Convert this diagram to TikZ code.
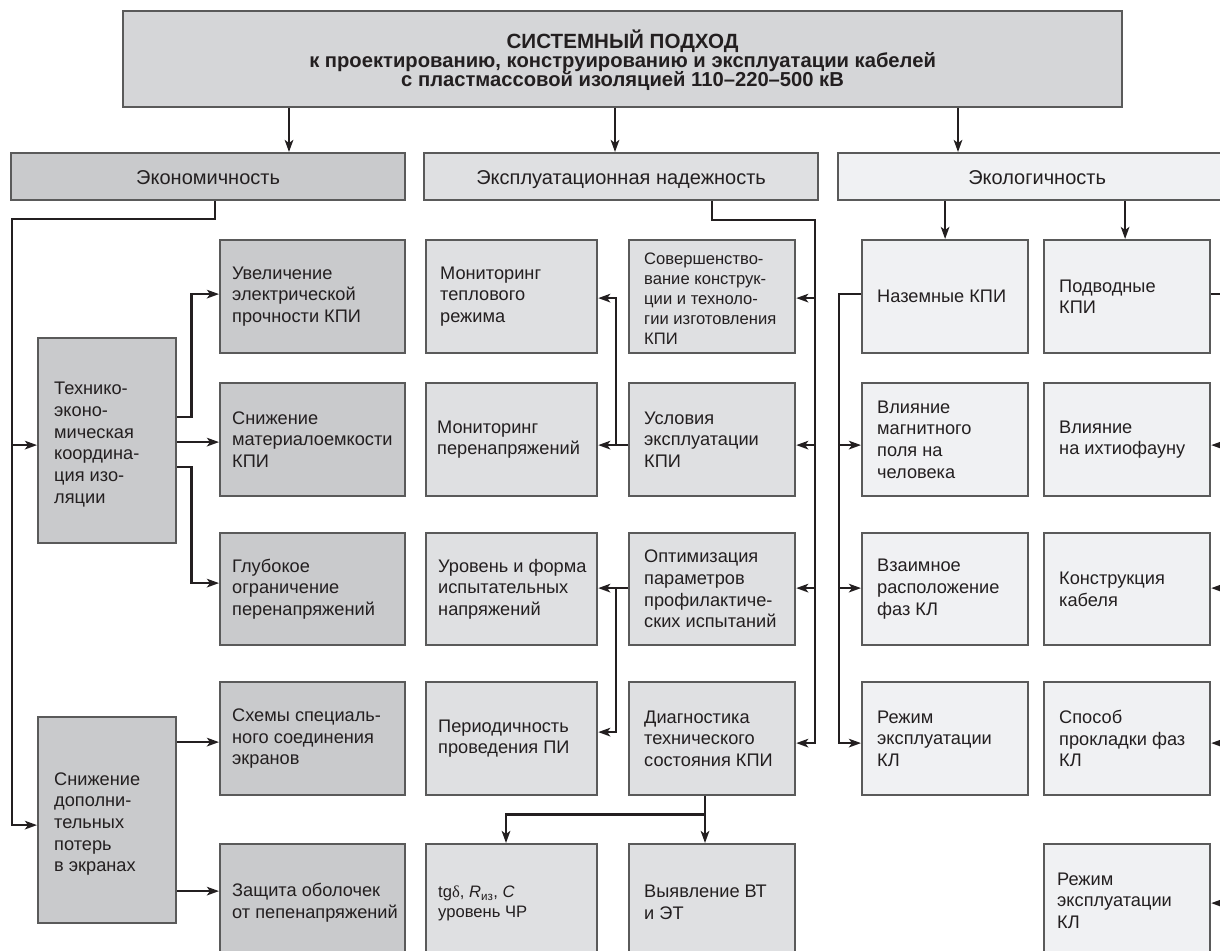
\documentclass[tikz,border=0pt]{standalone}
\usepackage{fontspec}
\setmainfont{Liberation Sans}
\newfontfamily\dserif{Liberation Serif}
\usetikzlibrary{arrows.meta}
\definecolor{topc}{HTML}{D5D6D8}
\definecolor{ecoc}{HTML}{C9CACC}
\definecolor{expc}{HTML}{DFE0E2}
\definecolor{ekoc}{HTML}{F0F1F3}
\definecolor{bordc}{HTML}{5A5A5A}
\definecolor{linec}{HTML}{231F20}
\newcommand\bodyf{\fontsize{18.2}{21.7}\selectfont}
\newcommand\smallf{\fontsize{16.6}{20}\selectfont}
\newcommand\catf{\fontsize{20}{24}\selectfont}
\newcommand\ttlf{\fontsize{20.2}{19.3}\selectfont\bfseries}
\tikzset{
  boxbase/.style={draw=bordc, line width=2.2pt, anchor=north west, inner sep=0pt, minimum height=113pt},
  catbox/.style={boxbase, minimum height=47pt, font=\catf, text=linec, text height=15pt, text depth=0pt},
  gA/.style={boxbase, fill=ecoc, minimum width=185pt},
  gT/.style={boxbase, fill=ecoc, minimum width=138pt},
  gML/.style={boxbase, fill=expc, minimum width=171pt},
  gMR/.style={boxbase, fill=expc, minimum width=166pt},
  gR/.style={boxbase, fill=ekoc, minimum width=166pt},
  txt/.style={anchor=west, align=left, inner sep=0pt, font=\bodyf, text=linec},
  ln/.style={draw=linec, line width=2.7pt},
  arr/.style={ln, -{Stealth[length=12pt,width=8.5pt,inset=3pt]}},
}
\begin{document}
\begin{tikzpicture}[x=1pt,y=-1pt]
\useasboundingbox (0,0) rectangle (1220,950);
\fill[white] (0,0) rectangle (1220,950);
\clip (0,0) rectangle (1220,950);

% title and categories
\node[boxbase, fill=topc, minimum width=999pt, minimum height=96pt] (top) at (122,10) {};
\node[font=\ttlf, align=center, text=linec, inner sep=0pt] (ttl) at ([yshift=-1pt]top.center)
  {{\fontsize{20.6}{19.3}\selectfont СИСТЕМНЫЙ ПОДХОД}\\к проектированию, конструированию и эксплуатации кабелей\\с пластмассовой изоляцией 110–220–500 кВ};
\node[catbox, fill=ecoc, minimum width=394pt] (econ) at (10,152) {Экономичность};
\node[catbox, fill=expc, minimum width=394pt] (expl) at (423,152) {Эксплуатационная надежность};
\node[catbox, fill=ekoc, minimum width=398pt] (ekol) at (837,152) {Экологичность};

% left column
\node[gT, minimum height=205pt] (tech) at (37,337) {};
\node[txt] (techt) at ([xshift=17pt,yshift=-4pt]tech.west) {Технико-\\эконо-\\мическая\\координа-\\ция изо-\\ляции};
\node[gT, minimum height=206pt] (sdop) at (37,716) {};
\node[txt] (sdopt) at ([xshift=17pt,yshift=-4pt]sdop.west) {Снижение\\дополни-\\тельных\\потерь\\в экранах};
\node[gA] (b1) at (219,239) {};
\node[txt] (b1t) at ([xshift=13pt]b1.west) {Увеличение\\электрической\\прочности КПИ};
\node[gA] (b2) at (219,382) {};
\node[txt] (b2t) at ([xshift=13pt]b2.west) {Снижение\\материалоемкости\\КПИ};
\node[gA, minimum height=112pt] (b3) at (219,532) {};
\node[txt] (b3t) at ([xshift=13pt]b3.west) {Глубокое\\ограничение\\перенапряжений};
\node[gA] (b4) at (219,681) {};
\node[txt] (b4t) at ([xshift=13pt]b4.west) {Схемы специаль-\\ного соединения\\экранов};
\node[gA] (b5) at (219,843) {};
\node[txt] (b5t) at ([xshift=13pt,yshift=-2pt]b5.west) {Защита оболочек\\от пепенапряжений};

% middle columns
\node[gML] (m1) at (425,239) {};
\node[txt] (m1t) at ([xshift=15pt]m1.west) {Мониторинг\\теплового\\режима};
\node[gMR] (m2) at (628,239) {};
\node[txt, font=\smallf] (m2t) at ([xshift=16pt,yshift=-2pt]m2.west) {Совершенство-\\вание конструк-\\ции и техноло-\\гии изготовления\\КПИ};
\node[gML] (m3) at (425,382) {};
\node[txt] (m3t) at ([xshift=12pt]m3.west) {Мониторинг\\перенапряжений};
\node[gMR] (m4) at (628,382) {};
\node[txt] (m4t) at ([xshift=16pt]m4.west) {Условия\\эксплуатации\\КПИ};
\node[gML, minimum height=112pt] (m5) at (425,532) {};
\node[txt] (m5t) at ([xshift=13pt]m5.west) {Уровень и форма\\испытательных\\напряжений};
\node[gMR, minimum height=112pt] (m6) at (628,532) {};
\node[txt] (m6t) at ([xshift=16pt]m6.west) {Оптимизация\\параметров\\профилактиче-\\ских испытаний};
\node[gML] (m7) at (425,681) {};
\node[txt] (m7t) at ([xshift=13pt]m7.west) {Периодичность\\проведения ПИ};
\node[gMR] (m8) at (628,681) {};
\node[txt] (m8t) at ([xshift=16pt]m8.west) {Диагностика\\технического\\состояния КПИ};
\node[gML] (m9) at (425,843) {};
\node[txt, font=\smallf] (m9t) at ([xshift=13pt,yshift=-3pt]m9.west) {tg{\dserif δ}, \textit{R}\textsubscript{из}, \textit{C}\\уровень ЧР};
\node[gMR] (m10) at (628,843) {};
\node[txt] (m10t) at ([xshift=16pt,yshift=-2pt]m10.west) {Выявление ВТ\\и ЭТ};

% right columns
\node[gR] (r1) at (861,239) {};
\node[txt] (r1t) at ([xshift=16pt]r1.west) {Наземные КПИ};
\node[gR] (r2) at (1043,239) {};
\node[txt] (r2t) at ([xshift=16pt]r2.west) {Подводные\\КПИ};
\node[gR] (r3) at (861,382) {};
\node[txt] (r3t) at ([xshift=16pt]r3.west) {Влияние\\магнитного\\поля на\\человека};
\node[gR] (r4) at (1043,382) {};
\node[txt] (r4t) at ([xshift=16pt]r4.west) {Влияние\\на ихтиофауну};
\node[gR, minimum height=112pt] (r5) at (861,532) {};
\node[txt] (r5t) at ([xshift=16pt]r5.west) {Взаимное\\расположение\\фаз КЛ};
\node[gR, minimum height=112pt] (r6) at (1043,532) {};
\node[txt] (r6t) at ([xshift=16pt]r6.west) {Конструкция\\кабеля};
\node[gR] (r7) at (861,681) {};
\node[txt] (r7t) at ([xshift=16pt]r7.west) {Режим\\эксплуатации\\КЛ};
\node[gR] (r8) at (1043,681) {};
\node[txt] (r8t) at ([xshift=16pt]r8.west) {Способ\\прокладки фаз\\КЛ};
\node[gR] (r10) at (1043,843) {};
\node[txt] (r10t) at ([xshift=14pt]r10.west) {Режим\\эксплуатации\\КЛ};

% ---------- connectors ----------
\coordinate (k1) at ([xshift=167pt]top.south west);
\coordinate (k2) at ([xshift=493pt]top.south west);
\coordinate (k3) at ([xshift=836pt]top.south west);
\draw[arr] (k1) -- (k1 |- econ.north);
\draw[arr] (k2) -- (k2 |- expl.north);
\draw[arr] (k3) -- (k3 |- ekol.north);

% economy bus
\coordinate (eo) at ([xshift=205pt]econ.south west);
\coordinate (lbus) at (12,219);
\coordinate (tIn) at ([yshift=-4.5pt]tech.west);
\coordinate (sIn) at ([yshift=-5pt]sdop.west);
\draw[arr] (eo) |- (lbus) |- (sIn);
\draw[arr] (lbus |- tIn) -- (tIn);

\coordinate (to1) at ([yshift=23.5pt]tech.east);
\coordinate (to3) at ([yshift=-26.5pt]tech.east);
\coordinate (b1in) at ([yshift=2.5pt]b1.west);
\coordinate (b2in) at ([yshift=-2.5pt]b2.west);
\coordinate (b3in) at ([yshift=6pt]b3.west);
\draw[arr] (to1) -- ++(14,0) |- (b1in);
\draw[arr] (tech.east |- b2in) -- (b2in);
\draw[arr] (to3) -- ++(14,0) |- (b3in);
\coordinate (b4in) at ([yshift=-3.5pt]b4.west);
\coordinate (b5in) at ([yshift=9.5pt]b5.west);
\draw[arr] (sdop.east |- b4in) -- (b4in);
\draw[arr] (sdop.east |- b5in) -- (b5in);

% reliability bus
\coordinate (xo) at ([xshift=289pt]expl.south west);
\coordinate (rbus) at (815,220);
\coordinate (m2in) at ([yshift=-1.5pt]m2.east);
\coordinate (m4in) at ([yshift=-5.5pt]m4.east);
\coordinate (m6in) at ([yshift=1pt]m6.east);
\coordinate (m8in) at ([yshift=-4.5pt]m8.east);
\draw[arr] (xo) |- (rbus) |- (m8in);
\draw[arr] (rbus |- m2in) -- (m2in);
\draw[arr] (rbus |- m4in) -- (m4in);
\draw[arr] (rbus |- m6in) -- (m6in);

\coordinate (mv) at (616,0);
\coordinate (m1in) at ([yshift=-1.5pt]m1.east);
\coordinate (m3in) at ([yshift=-5.5pt]m3.east);
\coordinate (m5in) at ([yshift=1pt]m5.east);
\coordinate (m7in) at ([yshift=6.5pt]m7.east);
\coordinate (m4out) at ([yshift=-5.5pt]m4.west);
\coordinate (m6out) at ([yshift=1pt]m6.west);
\draw[arr] (m4out) -- (m3in);
\draw[arr] (m4out -| mv) |- (m1in);
\draw[arr] (m6out) -- (m5in);
\draw[arr] (m6out -| mv) |- (m7in);

\coordinate (dO) at ([xshift=77pt]m8.south west);
\coordinate (dJ) at ([yshift=-18pt]dO);
\coordinate (m9in) at ([xshift=81pt]m9.north west);
\draw[ln] (dO) -- (dJ);
\draw[arr] (dJ) -- (dJ |- m10.north);
\draw[arr] (dJ) -| (m9in);

% ecology
\draw[arr] (r1.north |- ekol.south) -- (r1.north);
\draw[arr] ([xshift=-2pt]r2.north |- ekol.south) -- ([xshift=-2pt]r2.north);
\coordinate (g0) at ([yshift=2.5pt]r1.west);
\coordinate (gv) at (839,0);
\coordinate (r3in) at ([yshift=-5.5pt]r3.west);
\coordinate (r5in) at ([yshift=1pt]r5.west);
\coordinate (r7in) at ([yshift=-4.5pt]r7.west);
\draw[arr] (g0) -- (g0 -| gv) |- (r7in);
\draw[arr] (gv |- r3in) -- (r3in);
\draw[arr] (gv |- r5in) -- (r5in);

\coordinate (p0) at ([yshift=2.5pt]r2.east);
\coordinate (pv) at (1232,0);
\coordinate (r4in) at ([yshift=-5.5pt]r4.east);
\coordinate (r6in) at ([yshift=1pt]r6.east);
\coordinate (r8in) at ([yshift=-4.5pt]r8.east);
\coordinate (r10in) at ([yshift=-2.5pt]r10.east);
\draw[arr] (p0) -- (p0 -| pv) |- (r10in);
\draw[arr] (pv |- r4in) -- (r4in);
\draw[arr] (pv |- r6in) -- (r6in);
\draw[arr] (pv |- r8in) -- (r8in);
\end{tikzpicture}
\end{document}
